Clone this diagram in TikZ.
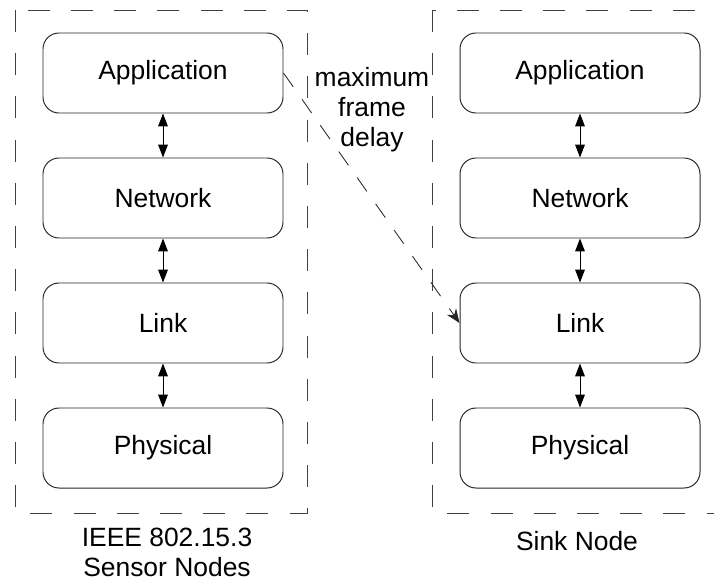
\documentclass[tikz,border=0pt]{standalone}
\usepackage{fontspec}
\setmainfont{Liberation Sans}
\usepackage{tikz}
\usetikzlibrary{arrows.meta}
\tikzset{
  font={\fontsize{18.8pt}{21.3pt}\selectfont}}
\tikzset{
  layer/.style={draw=black!85, line width=0.7pt, rounded corners=0.4cm,
    minimum width=6cm, minimum height=2cm},
  stackframe/.style={draw=black!75, line width=0.7pt, dash pattern=on 0.55cm off 0.53cm},
  updown/.style={line width=0.7pt, {Triangle[length=0.32cm,width=0.24cm]}-{Triangle[length=0.32cm,width=0.24cm]}},
  delayline/.style={draw=black!85, line width=0.6pt, dash pattern=on 0.42cm off 0.38cm,
    -{Stealth[length=0.35cm,width=0.28cm]}}}

\begin{document}
\begin{tikzpicture}[scale=0.25]
\useasboundingbox (0,0) rectangle (71.4,-58.2);
\tikzstyle{every node}+=[inner sep=0pt]
\draw [stackframe] (1.5,-1.0) rectangle (30.7,-51.3);
\draw [stackframe] (43.2,-1.0) rectangle (73.0,-51.3);
\node [layer] (app1) at (16.3,-7.3) {Application};
\node [layer] (net1) at (16.3,-19.8) {Network};
\node [layer] (link1) at (16.3,-32.3) {Link};
\node [layer] (phy1) at (16.3,-44.8) {Physical};
\node [layer] (app2) at (58.0,-7.3) {Application};
\node [layer] (net2) at (58.0,-19.8) {Network};
\node [layer] (link2) at (58.0,-32.3) {Link};
\node [layer] (phy2) at (58.0,-44.8) {Physical};
\draw [updown] (app1) -- (net1);
\draw [updown] (net1) -- (link1);
\draw [updown] (link1) -- (phy1);
\draw [updown] (app2) -- (net2);
\draw [updown] (net2) -- (link2);
\draw [updown] (link2) -- (phy2);
\draw [delayline] (app1.east) -- (link2.west);
\node [align=center] (delay) at (37.2,-11.0) {maximum\\frame\\delay};
\node [align=center] (sensorlabel) at (16.7,-55.2) {IEEE 802.15.3\\Sensor Nodes};
\node (sinklabel) at (57.7,-54.1) {Sink Node};
\end{tikzpicture}
\end{document}
